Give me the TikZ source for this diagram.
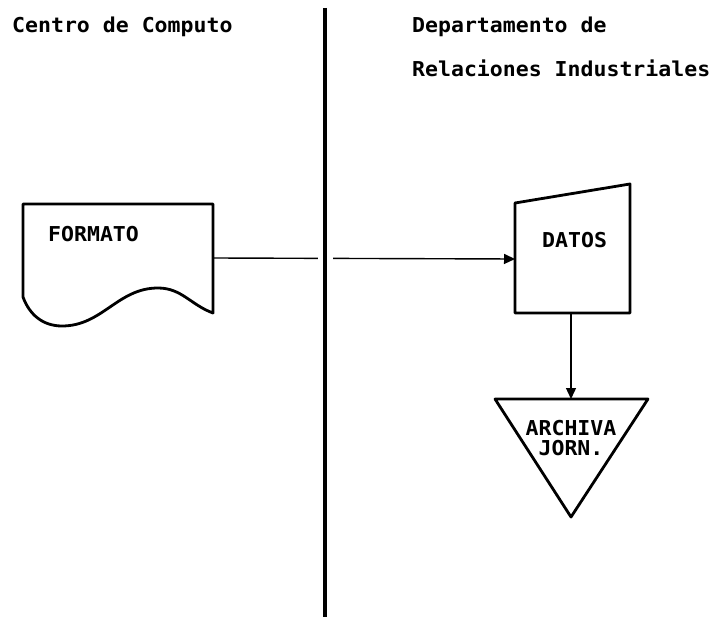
\documentclass[tikz,border=0pt]{standalone}
\usepackage{fontspec}
\newfontfamily\dotfont[FakeStretch=1.05]{DejaVu Sans Mono}
\usetikzlibrary{arrows.meta}
\begin{document}
\begin{tikzpicture}[x=1pt,y=-1pt,
  lbl/.style={inner sep=0pt, font=\dotfont\bfseries\fontsize{20.5}{20}\selectfont},
  shapeline/.style={line width=2.8pt, line join=round},
  conn/.style={line width=1.4pt, -{Triangle[length=11pt,width=10pt]}},
  sep/.style={line width=4.5pt}]
\useasboundingbox (0,0) rectangle (714,617);
\fill[white] (0,0) rectangle (714,617);

% headers
\node[lbl, anchor=base west] (hleft) at (12,33) {Centro de Computo};
\node[lbl, anchor=base west] (hright1) at (412,33) {Departamento de};
\node[lbl, anchor=base west] (hright2) at (412,77) {Relaciones Industriales};

% document shape FORMATO
\draw[shapeline] (23,204) -- (213,204) -- (213,313)
  to[out=160,in=0] (158,288) to[out=180,in=0] (62,326)
  to[out=180,in=-70] (23,297) -- cycle;
\coordinate (fmtE) at (213,258);
\node[lbl, anchor=base west] (fmtxt) at (48,242) {FORMATO};

% manual input DATOS
\draw[shapeline] (515,203) -- (630,184) -- (630,313) -- (515,313) -- cycle;
\coordinate (datW) at (515,259);
\coordinate (datS) at (571,313);
\node[lbl, anchor=base west] (dttxt) at (542,248) {DATOS};

% triangle ARCHIVA
\draw[shapeline] (495,399) -- (648,399) -- (571,517) -- cycle;
\coordinate (triN) at (571,399);
\node[lbl, align=center] (artxt) at (571,438) {ARCHIVA\\JORN.};

% connectors
\draw[conn] (fmtE) -- (datW);
\draw[conn] (datS) -- (triN);

% separator with gap
\coordinate (sepT) at (325,8);
\coordinate (sepB) at (325,617);
\draw[white, line width=15pt] (325,250) -- (325,268);
\draw[sep] (sepT) -- (sepB);
\end{tikzpicture}
\end{document}
